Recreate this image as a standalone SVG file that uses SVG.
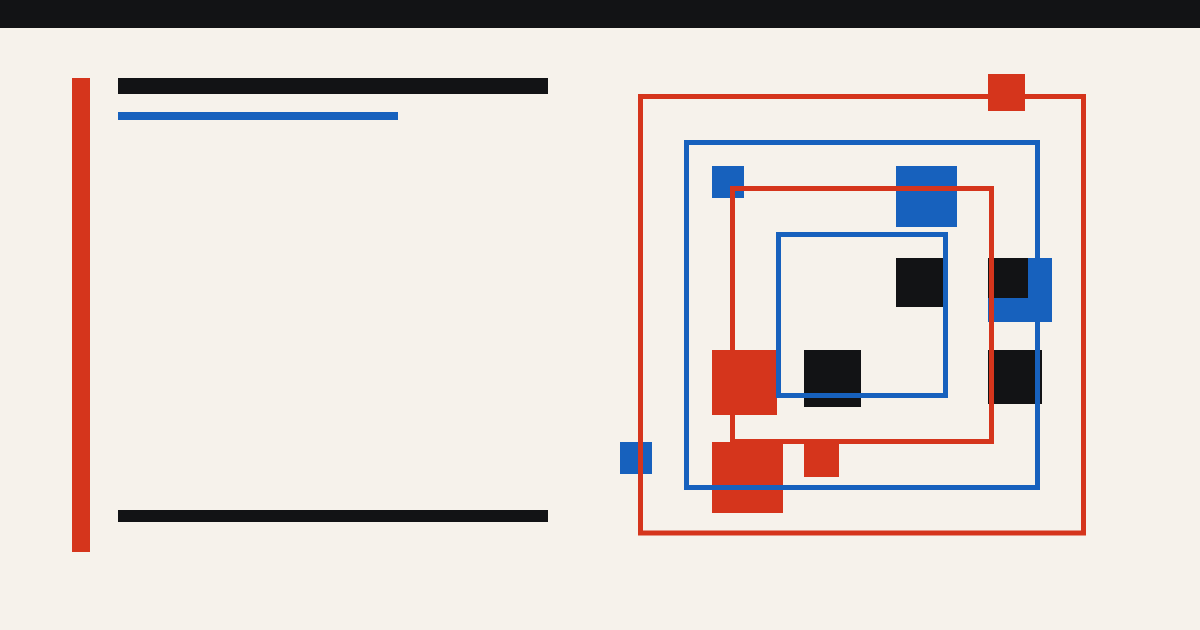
<svg xmlns="http://www.w3.org/2000/svg" width="1200" height="630" viewBox="0 0 1200 630">
  <style>
    .r{fill:#d5351c}
    .b{fill:#1761bd}
    .k{fill:#121315}
    .sr{fill:none;stroke:#d5351c;stroke-width:5}
    .sb{fill:none;stroke:#1761bd;stroke-width:5}
  </style>
  <rect width="1200" height="630" fill="#f6f2eb"/>
  <rect class="k" x="0" y="0" width="1200" height="28"/>
  <g id="left-panel">
    <rect class="r" x="72" y="78" width="18" height="474"/>
    <rect class="k" x="118" y="78" width="430" height="16"/>
    <rect class="b" x="118" y="112" width="280" height="8"/>
    <rect class="k" x="118" y="510" width="430" height="12"/>
  </g>
  <g id="blocks">
    <rect class="r" x="988" y="74" width="37" height="37"/>
    <rect class="b" x="712" y="166" width="32" height="32"/>
    <rect class="b" x="896" y="166" width="61" height="61"/>
    <rect class="k" x="896" y="258" width="49" height="49"/>
    <rect class="b" x="988" y="258" width="64" height="64"/>
    <rect class="k" x="988" y="258" width="40" height="40"/>
    <rect class="r" x="712" y="350" width="65" height="65"/>
    <rect class="k" x="804" y="350" width="57" height="57"/>
    <rect class="k" x="988" y="350" width="54" height="54"/>
    <rect class="b" x="620" y="442" width="32" height="32"/>
    <rect class="r" x="712" y="442" width="71" height="71"/>
    <rect class="r" x="804" y="442" width="35" height="35"/>
  </g>
  <g id="frames">
    <rect class="sr" x="640.5" y="96.5" width="443" height="436.5"/>
    <rect class="sb" x="686.5" y="142.5" width="351" height="345"/>
    <rect class="sr" x="732.5" y="188.5" width="259" height="253"/>
    <rect class="sb" x="778.5" y="234.5" width="167" height="161"/>
  </g>
</svg>
